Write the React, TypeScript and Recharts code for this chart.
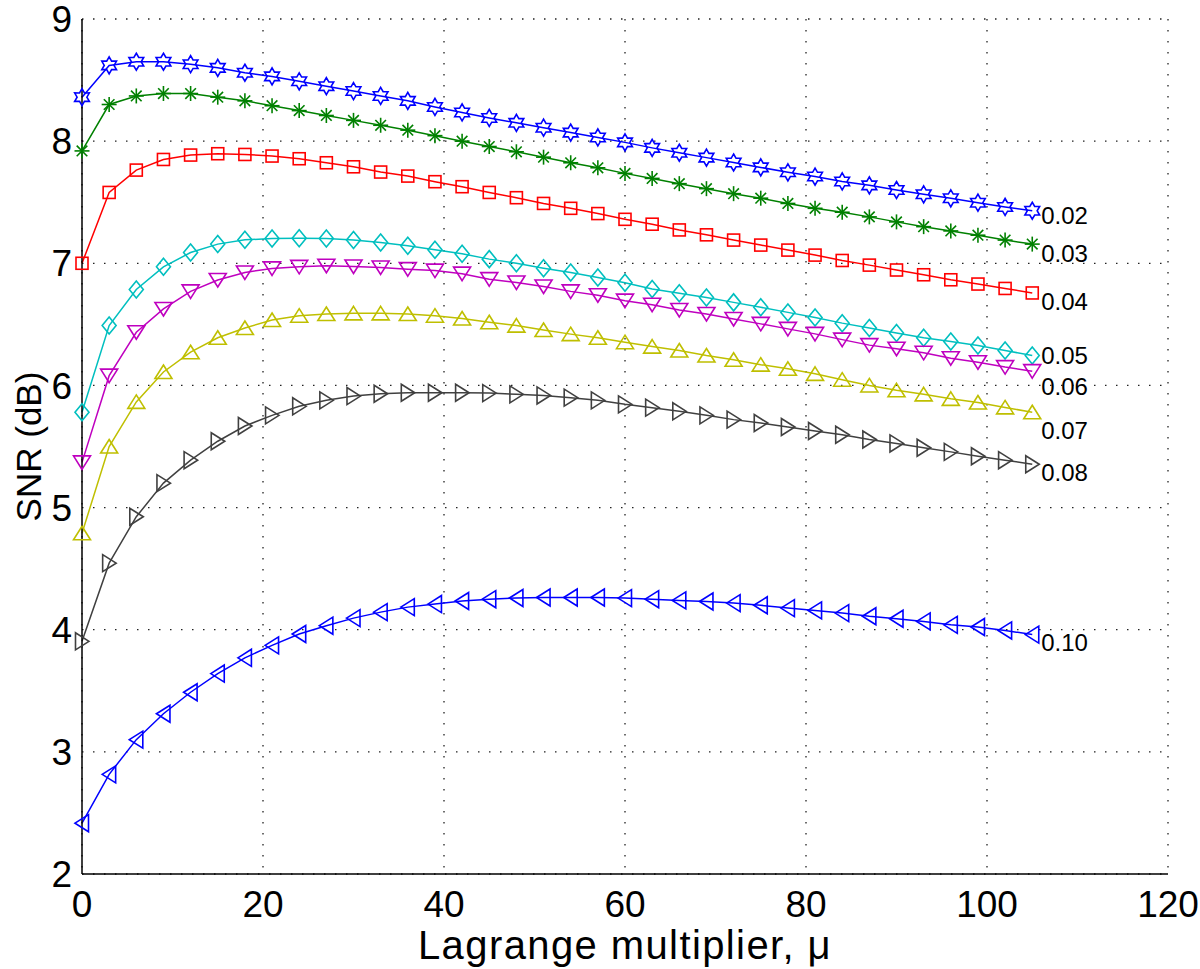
import { LineChart, Line, XAxis, YAxis, CartesianGrid } from 'recharts';

// Lagrange multiplier values (x)
const mu = [0, 3, 6, 9, 12, 15, 18, 21, 24, 27, 30, 33, 36, 39, 42, 45, 48, 51, 54, 57, 60, 63, 66, 69, 72, 75, 78, 81, 84, 87, 90, 93, 96, 99, 102, 105];

// SNR (dB) per curve
const snr002 = [8.36, 8.62, 8.65, 8.65, 8.63, 8.6, 8.56, 8.53, 8.49, 8.45, 8.41, 8.37, 8.33, 8.28, 8.235, 8.19, 8.15, 8.11, 8.07, 8.03, 7.99, 7.945, 7.905, 7.865, 7.825, 7.785, 7.745, 7.71, 7.67, 7.638, 7.6, 7.565, 7.532, 7.496, 7.461, 7.43];
const snr003 = [7.92, 8.3, 8.37, 8.39, 8.39, 8.36, 8.33, 8.29, 8.25, 8.21, 8.17, 8.13, 8.09, 8.045, 8.0, 7.956, 7.913, 7.869, 7.823, 7.782, 7.736, 7.695, 7.652, 7.611, 7.57, 7.533, 7.49, 7.45, 7.418, 7.38, 7.339, 7.3, 7.265, 7.23, 7.19, 7.157];
const snr004 = [7.0, 7.58, 7.763, 7.85, 7.886, 7.897, 7.891, 7.878, 7.856, 7.823, 7.79, 7.747, 7.714, 7.668, 7.627, 7.58, 7.537, 7.49, 7.45, 7.407, 7.36, 7.32, 7.273, 7.233, 7.19, 7.149, 7.108, 7.067, 7.023, 6.985, 6.945, 6.906, 6.865, 6.83, 6.794, 6.757];
const snr005 = [5.78, 6.49, 6.785, 6.971, 7.088, 7.157, 7.192, 7.203, 7.205, 7.203, 7.19, 7.17, 7.143, 7.11, 7.078, 7.034, 7.0, 6.96, 6.925, 6.884, 6.84, 6.79, 6.755, 6.72, 6.68, 6.64, 6.598, 6.557, 6.51, 6.47, 6.43, 6.39, 6.36, 6.327, 6.286, 6.245];
const snr006 = [5.37, 6.08, 6.435, 6.626, 6.77, 6.863, 6.925, 6.958, 6.971, 6.98, 6.974, 6.966, 6.952, 6.94, 6.915, 6.87, 6.843, 6.81, 6.77, 6.738, 6.694, 6.661, 6.618, 6.585, 6.544, 6.504, 6.463, 6.422, 6.375, 6.33, 6.3, 6.267, 6.223, 6.19, 6.15, 6.117];
const snr007 = [4.79, 5.5, 5.865, 6.11, 6.272, 6.39, 6.47, 6.536, 6.571, 6.585, 6.59, 6.59, 6.585, 6.571, 6.548, 6.517, 6.49, 6.454, 6.42, 6.39, 6.354, 6.318, 6.286, 6.245, 6.21, 6.17, 6.136, 6.095, 6.047, 6.0, 5.96, 5.927, 5.89, 5.86, 5.82, 5.78];
const snr008 = [3.905, 4.545, 4.925, 5.2, 5.388, 5.543, 5.668, 5.755, 5.829, 5.878, 5.913, 5.932, 5.94, 5.94, 5.94, 5.937, 5.927, 5.918, 5.9, 5.878, 5.845, 5.818, 5.788, 5.755, 5.72, 5.692, 5.66, 5.627, 5.596, 5.557, 5.525, 5.49, 5.456, 5.42, 5.388, 5.355];
const snr010 = [2.416, 2.816, 3.1, 3.312, 3.488, 3.641, 3.77, 3.872, 3.965, 4.033, 4.095, 4.144, 4.185, 4.21, 4.235, 4.25, 4.26, 4.264, 4.264, 4.264, 4.259, 4.25, 4.24, 4.231, 4.218, 4.2, 4.177, 4.158, 4.136, 4.11, 4.09, 4.068, 4.04, 4.022, 3.994, 3.96];

const curveNames = ['0.02', '0.03', '0.04', '0.05', '0.06', '0.07', '0.08', '0.10'];
const curveValues = [snr002, snr003, snr004, snr005, snr006, snr007, snr008, snr010];

const xTicks = [0, 20, 40, 60, 80, 100, 120];
const yTicks = [2, 3, 4, 5, 6, 7, 8, 9];

// look of each curve (matlab default colour order) + nudge of the end label
const styles = [
  { color: '#0000ff', marker: 'hexagram', labelDy: 5 },
  { color: '#008000', marker: 'asterisk', labelDy: 9 },
  { color: '#ff0000', marker: 'square', labelDy: 8 },
  { color: '#00bfbf', marker: 'diamond', labelDy: 0 },
  { color: '#bf00bf', marker: 'triDown', labelDy: 15 },
  { color: '#bfbf00', marker: 'triUp', labelDy: 18 },
  { color: '#404040', marker: 'triRight', labelDy: 8 },
  { color: '#0000ff', marker: 'triLeft', labelDy: 8 },
];

const FONT = '"Liberation Sans", Arial, Helvetica, sans-serif';

const chartData = mu.map((m, i) => {
  const row: Record<string, number> = { mu: m };
  curveNames.forEach((name, k) => {
    row['s' + name] = curveValues[k][i];
  });
  return row;
});

function hexagramPoints(cx: number, cy: number) {
  const pts: string[] = [];
  for (let k = 0; k < 12; k++) {
    const a = ((-90 + k * 30) * Math.PI) / 180;
    const r = k % 2 === 0 ? 8.5 : 4.9;
    pts.push(`${cx + r * Math.cos(a)},${cy + r * Math.sin(a)}`);
  }
  return pts.join(' ');
}

function Marker({ cx, cy, shape, color }: { cx: number; cy: number; shape: string; color: string }) {
  const p = { fill: 'none', stroke: color, strokeWidth: 1.6 };
  switch (shape) {
    case 'hexagram':
      return <polygon points={hexagramPoints(cx, cy)} {...p} />;
    case 'asterisk': {
      const r = 7.5;
      const d = r * 0.7071;
      return (
        <g {...p}>
          <line x1={cx - r} y1={cy} x2={cx + r} y2={cy} />
          <line x1={cx} y1={cy - r} x2={cx} y2={cy + r} />
          <line x1={cx - d} y1={cy - d} x2={cx + d} y2={cy + d} />
          <line x1={cx - d} y1={cy + d} x2={cx + d} y2={cy - d} />
        </g>
      );
    }
    case 'square':
      return <rect x={cx - 6} y={cy - 6} width={12} height={12} {...p} />;
    case 'diamond':
      return <polygon points={`${cx},${cy - 8.5} ${cx + 7},${cy} ${cx},${cy + 8.5} ${cx - 7},${cy}`} {...p} />;
    case 'triUp':
      return <polygon points={`${cx},${cy - 7} ${cx + 8.5},${cy + 6.5} ${cx - 8.5},${cy + 6.5}`} {...p} />;
    case 'triDown':
      return <polygon points={`${cx},${cy + 7} ${cx + 8.5},${cy - 6.5} ${cx - 8.5},${cy - 6.5}`} {...p} />;
    case 'triRight':
      return <polygon points={`${cx + 7},${cy} ${cx - 6.5},${cy - 8.5} ${cx - 6.5},${cy + 8.5}`} {...p} />;
    case 'triLeft':
      return <polygon points={`${cx - 7},${cy} ${cx + 6.5},${cy - 8.5} ${cx + 6.5},${cy + 8.5}`} {...p} />;
    default:
      return null;
  }
}

export default function App() {
  const last = mu.length - 1;
  return (
    <div style={{ position: 'absolute', left: 0, top: 0, background: '#fff' }}>
      <LineChart
        width={1200}
        height={969}
        data={chartData}
        margin={{ top: 19, right: 32, left: 12, bottom: 0 }}
      >
        <CartesianGrid stroke="#222" strokeWidth={1.3} strokeDasharray="1.5 9.5" />
        <XAxis
          dataKey="mu"
          type="number"
          domain={[0, 120]}
          ticks={xTicks}
          interval={0}
          height={95}
          tickLine={false}
          tickSize={0}
          tickMargin={17}
          axisLine={{ stroke: '#000', strokeWidth: 1.5 }}
          tick={{ fontSize: 37, fill: '#000', fontFamily: FONT }}
          label={{
            value: 'Lagrange multiplier, μ',
            position: 'insideBottom',
            offset: 10,
            style: { fontSize: 40, fill: '#000', fontFamily: FONT, letterSpacing: 1.4 },
          }}
        />
        {/* inward ticks bottom */}
        <XAxis
          xAxisId="bottomTicks"
          dataKey="mu"
          type="number"
          domain={[0, 120]}
          ticks={xTicks}
          interval={0}
          orientation="bottom"
          mirror
          height={0}
          tick={false}
          tickSize={11}
          tickLine={{ stroke: '#000', strokeWidth: 1.3 }}
          axisLine={false}
        />
        {/* box top */}
        <XAxis
          xAxisId="top"
          dataKey="mu"
          type="number"
          domain={[0, 120]}
          ticks={xTicks}
          interval={0}
          orientation="top"
          mirror
          height={0}
          tick={false}
          tickSize={11}
          tickLine={{ stroke: '#000', strokeWidth: 1.3 }}
          axisLine={{ stroke: '#000', strokeWidth: 1.5 }}
        />
        <YAxis
          type="number"
          domain={[2, 9]}
          ticks={yTicks}
          interval={0}
          width={70}
          tickLine={false}
          tickSize={0}
          tickMargin={10}
          axisLine={{ stroke: '#000', strokeWidth: 1.5 }}
          tick={{ fontSize: 37, fill: '#000', fontFamily: FONT }}
          label={{
            value: 'SNR (dB)',
            angle: -90,
            position: 'insideLeft',
            offset: 17,
            style: { fontSize: 35, fill: '#000', fontFamily: FONT, textAnchor: 'middle' },
          }}
        />
        <YAxis
          yAxisId="leftTicks"
          type="number"
          domain={[2, 9]}
          ticks={yTicks}
          interval={0}
          orientation="left"
          mirror
          width={0}
          tick={false}
          tickSize={11}
          tickLine={{ stroke: '#000', strokeWidth: 1.3 }}
          axisLine={false}
        />
        <YAxis
          yAxisId="right"
          type="number"
          domain={[2, 9]}
          ticks={yTicks}
          interval={0}
          orientation="right"
          mirror
          width={0}
          tick={false}
          tickSize={11}
          tickLine={{ stroke: '#000', strokeWidth: 1.3 }}
          axisLine={{ stroke: '#000', strokeWidth: 1.5 }}
        />
        {curveNames.map((name, k) => {
          const st = styles[k];
          return (
            <Line
              key={name}
              type="linear"
              dataKey={'s' + name}
              stroke={st.color}
              strokeWidth={1.5}
              isAnimationActive={false}
              activeDot={false}
              dot={(props: any) => {
                const { cx, cy, index } = props;
                if (cx == null || cy == null) return <g key={`${name}-${index}`} />;
                return (
                  <g key={`${name}-${index}`}>
                    <Marker cx={cx} cy={cy} shape={st.marker} color={st.color} />
                    {index === last && (
                      <text
                        x={cx + 9}
                        y={cy + st.labelDy}
                        dy="0.36em"
                        fontSize={24}
                        fontFamily={FONT}
                        fill="#000"
                      >
                        {name}
                      </text>
                    )}
                  </g>
                );
              }}
            />
          );
        })}
      </LineChart>
    </div>
  );
}
